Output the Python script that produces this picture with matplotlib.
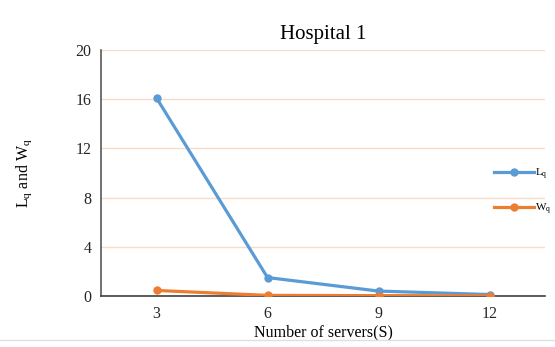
import matplotlib.pyplot as plt
import numpy as np

plt.rcParams['font.family'] = ['Liberation Serif', 'DejaVu Serif']
plt.rcParams['mathtext.fontset'] = 'custom'
plt.rcParams['mathtext.rm'] = 'Liberation Serif'

servers = [3, 6, 9, 12]
lq = [16.1, 1.5, 0.4, 0.12]
wq = [0.45, 0.05, 0.03, 0.01]

blue = '#5B9BD5'
orange = '#ED7D31'

fig = plt.figure(figsize=(5.55, 3.47), dpi=100)
ax = fig.add_axes([0.182, 0.147, 0.8, 0.709])

ax.plot(servers, lq, color=blue, lw=2.3, marker='o', ms=5, label=r'L$_\mathregular{q}$', zorder=3)
ax.plot(servers, wq, color=orange, lw=2.3, marker='o', ms=5, label=r'W$_\mathregular{q}$', zorder=4)

ax.set_xlim(1.5, 13.5)
ax.set_ylim(0, 20)
ax.set_xticks(servers)
ax.set_yticks(np.arange(0, 21, 4))
ax.yaxis.grid(True, color='#F9DCC8', lw=1)
ax.set_axisbelow(True)
for s in ['top', 'right']:
    ax.spines[s].set_visible(False)
ax.spines['left'].set_color('#595959')
ax.spines['bottom'].set_color('#404040')
ax.spines['left'].set_linewidth(1.2)
ax.spines['bottom'].set_linewidth(1.2)
ax.tick_params(axis='both', length=0, labelsize=11.5, colors='#262626', pad=7)

ax.set_title('Hospital 1', fontsize=15, pad=8)
ax.set_xlabel('Number of servers(S)', fontsize=11.5, labelpad=2)
ax.set_ylabel(r'L$_\mathregular{q}$ and W$_\mathregular{q}$', fontsize=11.5, labelpad=30)

fig.legend(loc='center left', bbox_to_anchor=(0.89, 0.447), frameon=False,
           fontsize=8, handlelength=3.6, handletextpad=0.1, labelspacing=1.75,
           borderaxespad=0, borderpad=0)

fig.add_artist(plt.Line2D([0, 1], [0.02, 0.02], color='#E0E0E0', lw=1, transform=fig.transFigure))

fig.savefig('out.png', dpi=100)
